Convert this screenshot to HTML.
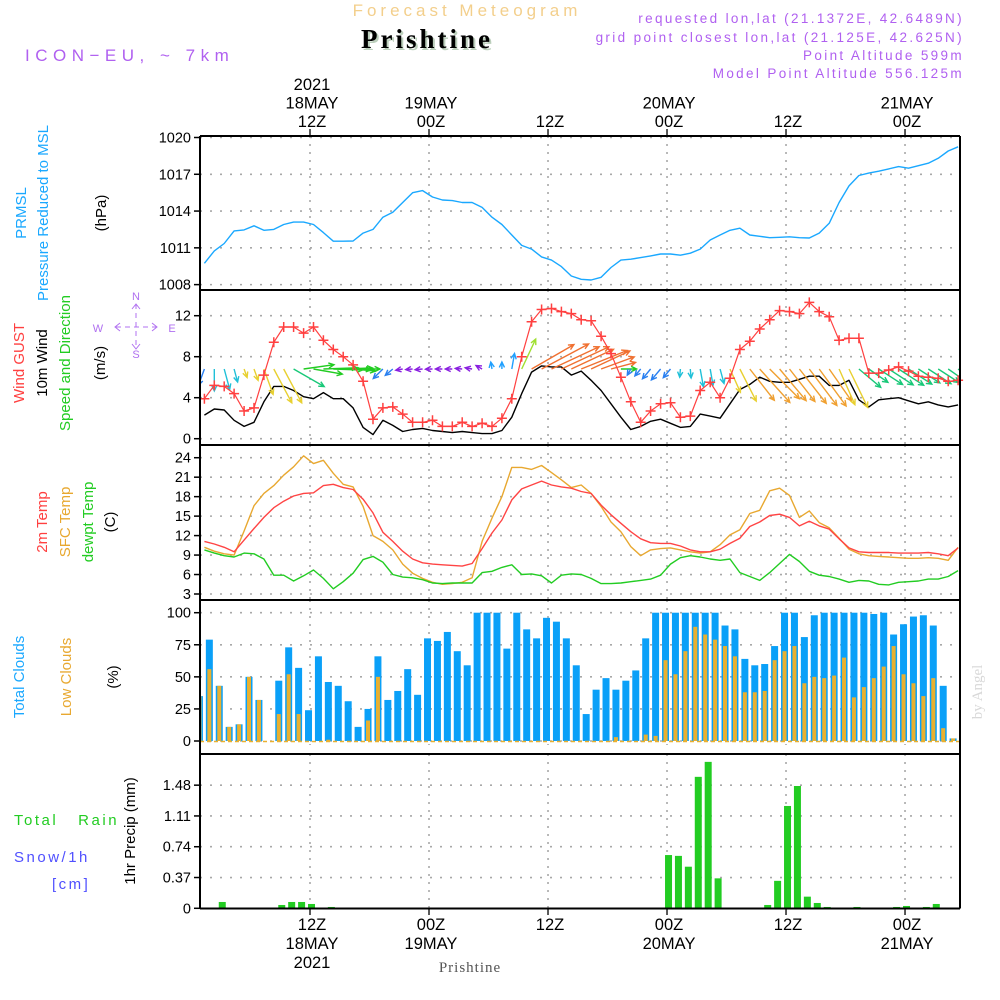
<!DOCTYPE html>
<html><head><meta charset="utf-8">
<style>
html,body{margin:0;padding:0;background:#fff;}
svg{display:block;font-family:"Liberation Sans",sans-serif;}
</style></head>
<body>
<svg id="chart" width="1000" height="1000" viewBox="0 0 1000 1000" xmlns="http://www.w3.org/2000/svg">
<defs><clipPath id="pc"><rect x="201" y="130" width="758" height="790"/></clipPath></defs>
<rect width="1000" height="1000" fill="#fff"/>
<!-- header -->
<text x="467" y="16" font-size="17" fill="#f3cf8c" text-anchor="middle" letter-spacing="4">Forecast Meteogram</text>
<text x="429" y="50" font-size="27" font-weight="bold" font-family="Liberation Serif, serif" fill="#bccfbc" text-anchor="middle" letter-spacing="3">Prishtine</text>
<text x="427" y="48" font-size="27" font-weight="bold" font-family="Liberation Serif, serif" fill="#000" text-anchor="middle" letter-spacing="3">Prishtine</text>
<text x="25" y="61" font-size="17" fill="#b060f0" letter-spacing="5.5">ICON−EU, ~ 7km</text>
<g font-size="13.5" fill="#b060f0" text-anchor="end" letter-spacing="2.35">
<text x="964" y="23">requested lon,lat (21.1372E, 42.6489N)</text>
<text x="964" y="42">grid point closest lon,lat (21.125E, 42.625N)</text>
<text x="964" y="60">Point Altitude 599m</text>
<text x="964" y="78">Model Point Altitude 556.125m</text>
</g>
<!-- left labels -->
<g font-size="15">
<text transform="translate(26,213) rotate(-90)" text-anchor="middle" fill="#1aa8ff">PRMSL</text>
<text transform="translate(48,213) rotate(-90)" text-anchor="middle" fill="#1aa8ff">Pressure Reduced to MSL</text>
<text transform="translate(106,213) rotate(-90)" text-anchor="middle" fill="#000">(hPa)</text>
</g>
<g font-size="15">
<text transform="translate(24,363) rotate(-90)" text-anchor="middle" fill="#ff4040">Wind GUST</text>
<text transform="translate(47,363) rotate(-90)" text-anchor="middle" fill="#000">10m Wind</text>
<text transform="translate(70,363) rotate(-90)" text-anchor="middle" fill="#22cc22">Speed and Direction</text>
<text transform="translate(105,363) rotate(-90)" text-anchor="middle" fill="#000">(m/s)</text>
</g>
<g font-size="11" fill="#b070f0" text-anchor="middle" stroke-width="1">
<text x="136" y="300">N</text><text x="136" y="358">S</text>
<text x="98" y="332">W</text><text x="172" y="332">E</text>
<line x1="116" x2="156" y1="327" y2="327" stroke="#b070f0" stroke-dasharray="5,4"/>
<line x1="136" x2="136" y1="304" y2="348" stroke="#b070f0" stroke-dasharray="5,4"/>
<path d="M120,323 L115,327 L120,331 M152,323 L157,327 L152,331 M132,309 L136,304 L140,309 M132,344 L136,349 L140,344" fill="none" stroke="#b070f0"/>
</g>
<g font-size="15">
<text transform="translate(47,522) rotate(-90)" text-anchor="middle" fill="#ff4040">2m Temp</text>
<text transform="translate(70,522) rotate(-90)" text-anchor="middle" fill="#e8a830">SFC Temp</text>
<text transform="translate(93,522) rotate(-90)" text-anchor="middle" fill="#22cc22">dewpt Temp</text>
<text transform="translate(115,522) rotate(-90)" text-anchor="middle" fill="#000">(C)</text>
</g>
<g font-size="15">
<text transform="translate(24,677) rotate(-90)" text-anchor="middle" fill="#1aa8ff">Total Clouds</text>
<text transform="translate(71,677) rotate(-90)" text-anchor="middle" fill="#e8a830">Low Clouds</text>
<text transform="translate(118,677) rotate(-90)" text-anchor="middle" fill="#000">(%)</text>
</g>
<g font-size="15" letter-spacing="2.5">
<text x="14" y="825" fill="#22cc22" xml:space="preserve">Total   Rain</text>
<text x="14" y="862" fill="#5050ff">Snow/1h</text>
<text x="52" y="889" fill="#5050ff">[cm]</text>
<text transform="translate(135,831) rotate(-90)" text-anchor="middle" fill="#000" letter-spacing="0">1hr Precip (mm)</text>
</g>
<text transform="translate(982,692) rotate(-90)" text-anchor="middle" font-size="15" font-family="Liberation Serif, serif" fill="#d8d8d8">by Angel</text>
<text x="470" y="972" text-anchor="middle" font-size="15" font-family="Liberation Serif, serif" fill="#555" letter-spacing="1">Prishtine</text>
<g id="plot"></g>
</svg>
<script>
// ---- data (hours 1..77, hourly) ----
const hours = [];
for (let h = 1; h <= 77; h++) hours.push(h);
const pressure = [1009.74,1010.75,1011.35,1012.38,1012.46,1012.8,1012.43,1012.5,1012.9,1013.1,1013.1,1012.9,1012.24,1011.54,1011.54,1011.56,1012.2,1012.5,1013.5,1013.9,1014.7,1015.5,1015.67,1015.15,1014.9,1014.85,1014.7,1014.7,1014.3,1013.5,1012.9,1012.05,1011.2,1010.9,1010.26,1010.0,1009.47,1008.7,1008.43,1008.38,1008.6,1009.4,1010.0,1010.07,1010.2,1010.34,1010.5,1010.5,1010.4,1010.56,1010.9,1011.64,1012.05,1012.43,1012.6,1012.05,1011.94,1011.83,1011.86,1011.9,1011.83,1011.8,1012.2,1013.0,1014.7,1016.05,1016.9,1017.1,1017.25,1017.44,1017.63,1017.5,1017.7,1017.9,1018.3,1018.9,1019.24];
const windGust = [3.9,5.2,5.1,4.4,2.7,3.0,6.2,9.4,10.9,10.9,10.3,10.9,9.6,8.7,8.0,7.2,5.6,1.9,3.0,3.1,2.4,1.6,1.6,1.8,1.2,1.2,1.6,1.2,1.5,1.2,2.0,3.9,8.0,11.4,12.6,12.7,12.4,12.2,11.6,11.5,10.0,8.3,6.0,3.6,1.6,2.7,3.4,3.5,2.1,2.2,4.7,5.5,4.0,5.9,8.7,9.5,10.7,11.6,12.5,12.4,12.2,13.3,12.4,11.9,9.6,9.8,9.8,6.4,6.4,6.7,7.0,6.6,6.1,6.0,5.9,5.6,5.7];
const wind10m = [2.3,2.9,2.8,1.8,1.2,1.6,3.6,5.1,5.1,4.7,4.1,3.9,4.5,3.9,3.9,3.0,1.1,0.4,1.8,1.3,0.7,0.9,1.0,0.8,0.7,0.6,0.7,0.6,0.5,0.5,0.8,2.1,4.4,6.5,7.1,7.0,7.0,6.2,6.6,5.7,4.7,3.4,2.1,0.9,1.2,1.7,1.9,1.5,1.1,1.2,2.4,2.2,2.0,3.4,4.8,5.3,6.0,5.6,5.5,5.5,5.8,6.1,6.1,5.2,5.2,5.7,3.8,3.1,3.8,3.9,4.0,3.7,3.4,3.6,3.3,3.1,3.3];
const windDir = [20,0,345,345,340,340,340,332,332,300,262,280,268,272,268,275,275,270,45,50,80,85,85,88,90,90,95,100,120,170,180,190,205,240,242,245,245,245,248,245,250,255,270,30,40,40,40,40,5,355,350,350,345,336,333,322,318,315,320,322,322,323,324,325,336,334,310,305,303,303,303,303,303,303,303,305,308];
const temp2m = [11.1,10.7,10.2,9.5,11.3,13.1,14.8,16.3,17.3,18.1,18.5,18.6,19.7,19.9,19.4,19.1,17.6,15.5,12.5,11.1,9.6,8.4,7.8,7.6,7.5,7.4,7.3,7.7,10.0,12.4,14.4,17.5,19.2,19.8,20.4,19.8,19.5,19.3,18.8,18.5,16.7,15.2,13.9,12.6,11.5,10.9,10.8,10.8,10.4,9.8,9.5,9.5,9.9,10.8,11.6,13.4,14.1,15.1,15.3,14.8,13.5,14.2,13.5,13.0,11.5,10.1,9.5,9.4,9.4,9.4,9.3,9.3,9.3,9.4,9.2,8.9,10.1];
const tempSfc = [10.2,9.6,9.2,9.0,12.7,16.6,18.5,19.7,21.3,22.6,24.3,23.1,23.6,21.6,19.9,19.5,16.5,12.0,11.1,9.8,7.6,6.2,5.4,4.8,4.5,4.6,4.8,5.5,11.1,14.7,18.0,22.5,22.5,22.2,22.8,21.7,20.6,19.4,19.8,18.5,16.5,14.1,12.6,10.3,8.9,9.8,10.0,10.1,9.8,9.5,9.3,9.5,10.6,12.1,12.9,15.4,15.9,18.9,19.3,18.2,14.8,15.8,14.0,13.2,11.6,9.9,9.2,8.9,8.8,8.7,8.6,8.5,8.5,8.6,8.5,8.2,10.2];
const dewpoint = [9.8,9.3,8.9,8.7,9.3,9.2,8.4,5.9,5.9,5.0,5.8,6.7,5.4,3.8,4.9,6.2,8.3,8.8,7.9,6.0,5.6,5.5,5.2,4.7,4.6,4.7,4.7,4.7,6.3,6.5,7.1,7.5,6.0,6.1,5.8,4.7,5.9,6.1,6.0,5.4,4.6,4.6,4.7,4.9,5.1,5.3,5.9,7.6,8.6,8.9,8.7,8.4,8.2,8.4,6.3,5.7,5.1,6.3,7.7,9.1,8.0,6.5,5.9,5.7,5.3,4.8,5.1,5.0,4.5,4.4,4.8,4.9,5.0,5.3,5.3,5.7,6.6];
// bar series (77 hourly accumulation bars)
const totalClouds = [35,79,43,11,13,50,32,0,47,73,57,24,66,46,43,31,11,25,66,32,39,56,36,80,78,85,70,59,100,100,100,72,100,87,80,96,93,80,59,21,40,49,40,47,55,80,100,100,100,100,100,100,100,90,87,64,59,60,74,100,100,81,98,100,100,100,100,100,99,100,83,91,97,98,90,43,2];
const lowClouds = [35,56,43,11,13,50,32,0,21,52,21,0,0,1,0,0,0,16,50,0,0,0,0,0,0,0,0,0,0,0,0,0,0,0,0,0,0,0,0,0,0,0,3,0,0,5,4,63,52,70,89,83,79,74,66,38,38,39,63,70,74,45,50,49,51,65,34,42,49,58,74,52,45,35,49,10,2];
const precip = [0,0,0.076,0,0,0,0,0,0.04,0.076,0.076,0.052,0,0.016,0,0,0,0,0,0,0,0,0,0,0,0,0,0,0,0,0,0,0,0,0,0,0,0,0,0,0,0,0,0,0,0,0,0.64,0.63,0.50,1.58,1.76,0.36,0,0,0,0,0.04,0.33,1.23,1.47,0.14,0.064,0.016,0,0,0.016,0,0,0,0.016,0.028,0,0.016,0.052,0,0];
const pTicks = [1008,1011,1014,1017,1020];
const wTicks = [0,4,8,12];
const tTicks = [3,6,9,12,15,18,21,24];
const cTicks = [0,25,50,75,100];
const rTicks = [0,0.37,0.74,1.11,1.48];
const timeTicks = [12,24,36,48,60,72];
const topTickLabels = [["2021","18MAY","12Z"],["19MAY","00Z"],["12Z"],["20MAY","00Z"],["12Z"],["21MAY","00Z"]];
const bottomTickLabels = [["12Z","18MAY","2021"],["00Z","19MAY"],["12Z"],["00Z","20MAY"],["12Z"],["00Z","21MAY"]];

// ---- scales ----
const X0 = 200, X1 = 960;
function xT(t){ return 310 + (t - 12) * 9.917; }
function xLine(h){ return xT(h + 0.35); }
function xBar(i){ return xT(i + 0.85); }
function yP(p){ return 137.5 + (1020 - p) * 12.26; }
function yW(v){ return 438.7 - v * 10.25; }
function yTt(t){ return 594 - (t - 3) * 6.49; }
function yC(c){ return 741 - c * 1.283; }
function yR(r){ return 908.3 - r * 83.2; }

const NS = "http://www.w3.org/2000/svg";
const plot = document.getElementById('plot');
function mk(tag, attrs, parent){
  const e = document.createElementNS(NS, tag);
  for (const k in attrs) e.setAttribute(k, attrs[k]);
  (parent || plot).appendChild(e);
  return e;
}
function group(name, clip){
  const g = mk('g', {});
  
  
  if (clip) g.setAttribute('clip-path', 'url(#pc)');
  return g;
}

const panels = [
  {name:'pressure', top:136, bot:290, ticks:pTicks, y:yP},
  {name:'wind', top:290, bot:445, ticks:wTicks, y:yW},
  {name:'temperature', top:445, bot:600, ticks:tTicks, y:yTt},
  {name:'clouds', top:600, bot:745, ticks:cTicks, y:yC},
  {name:'precip', top:754, bot:908.3, ticks:rTicks, y:yR}
];

panels.forEach(p => {
  const g = group(p.name + '-axes');
  p.ticks.forEach(v => {
    const y = p.y(v);
    const gl = mk('line', {x1:X0, x2:X1, y1:y, y2:y, stroke:'#a8a8a8', 'stroke-width':1.6, 'stroke-dasharray':'2,8'}, g);
    
    
    mk('line', {x1:X0-6, x2:X0, y1:y, y2:y, stroke:'#000', 'stroke-width':1.5}, g);
    const tx = mk('text', {x:X0-9, y:y+5, 'text-anchor':'end', 'font-size':14.5, fill:'#000'}, g);
    tx.textContent = String(v);
    
    
  });
  timeTicks.forEach(t => {
    const x = xT(t);
    mk('line', {x1:x, x2:x, y1:p.top, y2:p.bot, stroke:'#a8a8a8', 'stroke-width':1.6, 'stroke-dasharray':'2,6'}, g);
  });
});

function poly(vals, yf, color, name, w){
  const pts = vals.map((v,i)=> xLine(hours[i]).toFixed(1)+','+yf(v).toFixed(1)).join(' ');
  const pl = mk('polyline', {points:pts, fill:'none', stroke:color, 'stroke-width':w||1.4, 'stroke-linejoin':'round'});
  
  
  return pl;
}
poly(pressure, yP, '#1aa8ff', 'pressure-line');

const gc = group('cloud-bars', true);
totalClouds.forEach((c,i)=>{
  const x = xBar(i);
  const r = mk('rect', {x:x-3.5, y:yC(c), width:7, height:yC(0)-yC(c), fill:'#0aa0f8'}, gc);
  
  
});
lowClouds.forEach((c,i)=>{
  const x = xBar(i);
  const r = mk('rect', {x:x-2, y:yC(c), width:4, height:Math.max(0,yC(0)-yC(c)), fill:'#e8b030'}, gc);
  
  
});
mk('line', {x1:X0, x2:X1, y1:741.5, y2:741.5, stroke:'#e8b030', 'stroke-width':1.5, 'stroke-dasharray':'4,3'}, gc);

const gr = group('precip-bars', true);
precip.forEach((v,i)=>{
  if (v <= 0) return;
  const x = xBar(i) + 3;
  const r = mk('rect', {x:x-3.5, y:yR(v), width:7, height:yR(0)-yR(v), fill:'#22cc22'}, gr);
  
  
});

poly(tempSfc, yTt, '#e8a830', 'sfc-temp-line');
poly(temp2m, yTt, '#ff4444', '2m-temp-line');
poly(dewpoint, yTt, '#22cc22', 'dewpoint-line');

poly(wind10m, yW, '#000', '10m-wind-line', 1.4);
function arrowColor(d){
  if (d >= 345 || d < 15) return '#20c0d8';
  if (d < 60) return '#2a80f0';
  if (d < 135) return '#8a20e0';
  if (d < 200) return '#20a0ff';
  if (d < 235) return '#a0e030';
  if (d < 260) return '#f07030';
  if (d < 285) return '#22cc22';
  if (d < 312) return '#18c878';
  if (d < 330) return '#f0a030';
  return '#e8d030';
}
const ga = group('wind-arrows', true);
windDir.forEach((d,i)=>{
  const x0 = xLine(hours[i]), y0 = 369;
  const len = Math.max(7, wind10m[i] * 7.5);
  const rad = (d + 180) * Math.PI / 180;
  const dx = Math.sin(rad) * len, dy = -Math.cos(rad) * len;
  const x1 = x0 + dx, y1 = y0 + dy;
  const col = arrowColor(d);
  const a = Math.atan2(dy, dx);
  const hl = 6;
  const p1x = x1 - hl*Math.cos(a - 0.45), p1y = y1 - hl*Math.sin(a - 0.45);
  const p2x = x1 - hl*Math.cos(a + 0.45), p2y = y1 - hl*Math.sin(a + 0.45);
  const path = mk('path', {d:`M${x0.toFixed(1)},${y0} L${x1.toFixed(1)},${y1.toFixed(1)} M${p1x.toFixed(1)},${p1y.toFixed(1)} L${x1.toFixed(1)},${y1.toFixed(1)} L${p2x.toFixed(1)},${p2y.toFixed(1)}`, fill:'none', stroke:col, 'stroke-width':1.4}, ga);
  
  
});
const gg = group('wind-gust-series');
poly(windGust, yW, '#ff4040', 'wind-gust-line', 1.2);
windGust.forEach((v,i)=>{
  const x = xLine(hours[i]), y = yW(v);
  const m = mk('path', {d:`M${(x-5).toFixed(1)},${y.toFixed(1)} h10 M${x.toFixed(1)},${(y-5).toFixed(1)} v10`, stroke:'#ff4040', 'stroke-width':1.5}, gg);
  
  
});

const gf = group('panel-frames');
[136,290,445,600,754,908.5].forEach(a=>{
  mk('line', {x1:X0, x2:X1, y1:a, y2:a, stroke:'#000', 'stroke-width':2}, gf);
});
mk('line', {x1:X0, x2:X0, y1:136, y2:908.5, stroke:'#000', 'stroke-width':2}, gf);
mk('line', {x1:X1, x2:X1, y1:136, y2:908.5, stroke:'#000', 'stroke-width':2}, gf);

const gt = group('time-axis');
timeTicks.forEach((t,k)=>{
  const x = xT(t) + 2;
  mk('line', {x1:x-2, x2:x-2, y1:129, y2:136, stroke:'#000', 'stroke-width':1.3}, gt);
  mk('line', {x1:x-2, x2:x-2, y1:908, y2:915, stroke:'#000', 'stroke-width':1.3}, gt);
  const top = topTickLabels[k];
  top.forEach((s,j)=>{
    const tx = mk('text', {x:x, y:127 - (top.length-1-j)*18.5, 'text-anchor':'middle', 'font-size':16.5, fill:'#000'}, gt);
    tx.textContent = s;
    
    
  });
  bottomTickLabels[k].forEach((s,j)=>{
    const tx = mk('text', {x:x, y:930 + j*19, 'text-anchor':'middle', 'font-size':16.5, fill:'#000'}, gt);
    tx.textContent = s;
    
    
  });
});
</script>
</body></html>
